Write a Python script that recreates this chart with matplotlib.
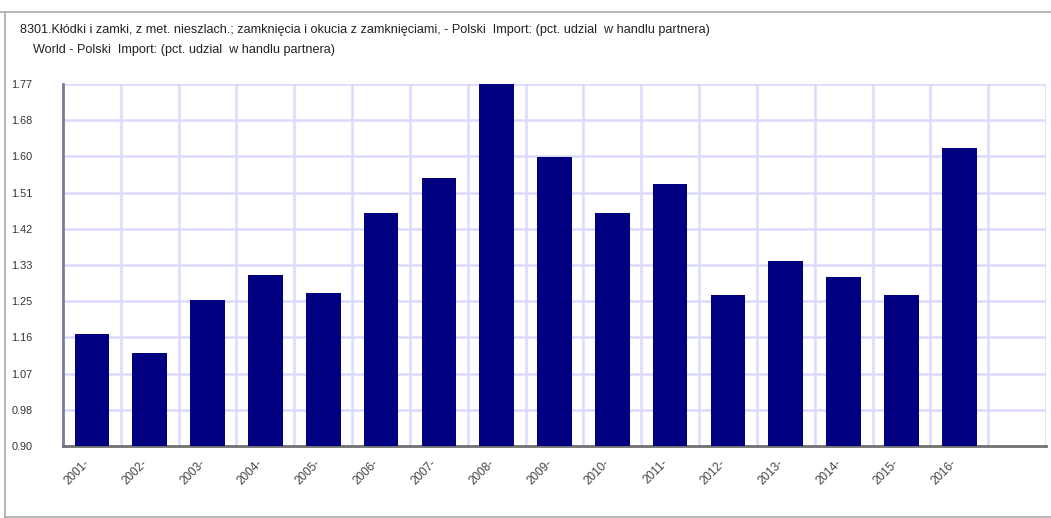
import matplotlib
matplotlib.use("Agg")
import matplotlib.pyplot as plt
from matplotlib.lines import Line2D

years = ["2001", "2002", "2003", "2004", "2005", "2006", "2007", "2008",
         "2009", "2010", "2011", "2012", "2013", "2014", "2015", "2016"]
values = [1.169, 1.124, 1.251, 1.311, 1.268, 1.460, 1.544, 1.770,
          1.595, 1.460, 1.530, 1.263, 1.345, 1.306, 1.263, 1.616]
ytick_vals = [0.90, 0.987, 1.074, 1.161, 1.248, 1.335, 1.422, 1.509, 1.596, 1.683, 1.77]
ytick_labels = ["0.90", "0.98", "1.07", "1.16", "1.25", "1.33", "1.42", "1.51", "1.60", "1.68", "1.77"]
title1 = ("8301.Kłódki i zamki, z met. nieszlach.; zamknięcia i okucia z zamknięciami, "
          "- Polski  Import: (pct. udzial  w handlu partnera)")
title2 = "World - Polski  Import: (pct. udzial  w handlu partnera)"

plt.rcParams["font.family"] = ["Liberation Sans", "DejaVu Sans"]

W, H = 1051, 518
fig = plt.figure(figsize=(W / 100, H / 100), dpi=100)
ax = fig.add_axes([63 / W, (H - 446) / H, (1046 - 63) / W, (446 - 84) / H])

x = list(range(len(years)))
ax.bar(x, values, width=0.6, color="#000080", zorder=3)

ax.set_xlim(-0.5, len(years) + 0.5)
ax.set_ylim(0.90, 1.77)

ax.set_yticks(ytick_vals)
ax.set_yticklabels(ytick_labels)
ax.set_xticks(x)
ax.set_xticklabels([y + "-" for y in years], rotation=45, ha="right")
ax.tick_params(axis="y", length=0, pad=22, labelsize=7.8, labelcolor="#333333")
ax.tick_params(axis="x", length=0, pad=8, labelsize=8.5, labelcolor="#444444")

# grid between categories
for i in range(len(years) + 1):
    ax.axvline(i + 0.5, color="#dadaff", lw=1.8, zorder=1)
for v in ytick_vals[1:]:
    ax.axhline(v, color="#dadaff", lw=1.8, zorder=1)

ax.spines["top"].set_visible(False)
ax.spines["right"].set_visible(False)
ax.spines["left"].set_color("#7a7a9a")
ax.spines["left"].set_linewidth(2)
ax.spines["bottom"].set_color("#707070")
ax.spines["bottom"].set_linewidth(2)

fig.text(20 / W, 1 - 30 / H, title1, fontsize=9.1, color="#222222", va="center")
fig.text(33 / W, 1 - 50 / H, title2, fontsize=9.1, color="#222222", va="center")

# window frame lines
fig.add_artist(Line2D([0, 1], [1 - 12 / H, 1 - 12 / H], color="#aaaaaa", lw=1.2))
fig.add_artist(Line2D([5 / W, 5 / W], [0, 1 - 12 / H], color="#aaaaaa", lw=1.2))
fig.add_artist(Line2D([5 / W, 1], [1 / H, 1 / H], color="#aaaaaa", lw=1.2))

fig.savefig("out.png", dpi=100)
